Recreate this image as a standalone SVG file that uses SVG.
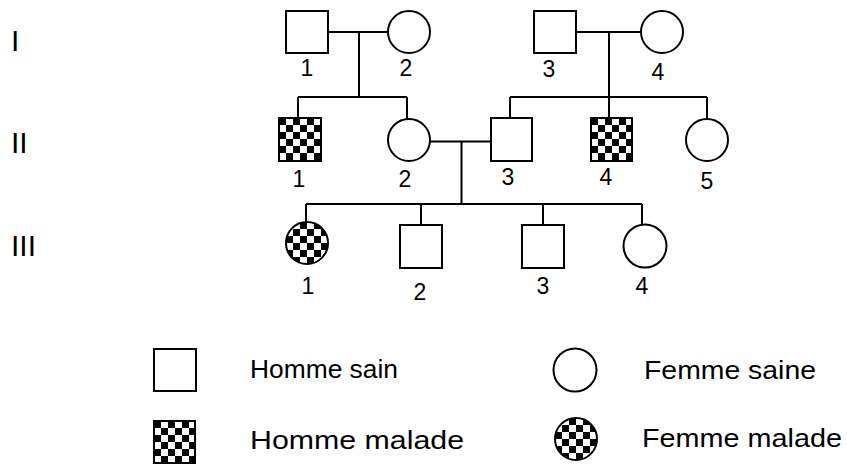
<svg xmlns="http://www.w3.org/2000/svg" width="847" height="467" viewBox="0 0 847 467">
<defs>
<g id="tile">
<rect x="0" y="0" width="14" height="14" fill="#fff"/>
<rect x="0" y="0" width="7" height="7" fill="#000"/>
<rect x="7" y="7" width="7" height="7" fill="#000"/>
</g>
<pattern id="ck1" patternUnits="userSpaceOnUse" x="279" y="118" width="14" height="14"><use href="#tile"/></pattern>
<pattern id="ck2" patternUnits="userSpaceOnUse" x="591" y="118" width="14" height="14"><use href="#tile"/></pattern>
<pattern id="ck3" patternUnits="userSpaceOnUse" x="286" y="222" width="14" height="14"><use href="#tile"/></pattern>
<pattern id="ck4" patternUnits="userSpaceOnUse" x="154" y="421" width="14" height="14"><use href="#tile"/></pattern>
<pattern id="ck5" patternUnits="userSpaceOnUse" x="555" y="418" width="14" height="14"><use href="#tile"/></pattern>
</defs>
<style>
.s{fill:#fff;stroke:#000;stroke-width:2}
.a{stroke:#000;stroke-width:2}
.ln{fill:none;stroke:#000;stroke-width:2}
.n{font-family:"Liberation Sans",Arial,sans-serif;font-size:23px;fill:#000;text-anchor:middle}
.g{font-family:"Liberation Sans",Arial,sans-serif;font-size:30px;fill:#000}
.t{font-family:"Liberation Sans",Arial,sans-serif;font-size:26px;fill:#000}
</style>
<rect width="847" height="467" fill="#fff"/>
<g id="generations">
<text class="g" x="11" y="51">I</text>
<text class="g" x="11" y="153">II</text>
<text class="g" x="11" y="256">III</text>
</g>
<g id="connectors">
<path class="ln" d="M328 32H388M359 32V97M298 97H407M298 97V118M407 97V119"/>
<path class="ln" d="M576 32H641M609 32V97M510 97H707M510 97V118M609 97V118M707 97V118"/>
<path class="ln" d="M430 141.5H491M461.5 141.5V204M306 204H642M306 204V222M421 204V225M543 204V225M642 204V224"/>
</g>
<g id="I-1"><rect class="s" x="286" y="11" width="42" height="42"/><text class="n" x="307" y="76">1</text></g>
<g id="I-2"><circle class="s" cx="409" cy="32" r="21"/><text class="n" x="406" y="76">2</text></g>
<g id="I-3"><rect class="s" x="534" y="11" width="42" height="42"/><text class="n" x="549" y="77">3</text></g>
<g id="I-4"><circle class="s" cx="662" cy="32" r="21"/><text class="n" x="658" y="80">4</text></g>
<g id="II-1"><rect class="a" fill="url(#ck1)" x="279" y="118" width="42" height="43"/><text class="n" x="299" y="187">1</text></g>
<g id="II-2"><circle class="s" cx="409" cy="140" r="21"/><text class="n" x="405" y="187">2</text></g>
<g id="II-3"><rect class="s" x="491" y="118" width="41" height="43"/><text class="n" x="508" y="185">3</text></g>
<g id="II-4"><rect class="a" fill="url(#ck2)" x="591" y="118" width="41" height="43"/><text class="n" x="606" y="185">4</text></g>
<g id="II-5"><circle class="s" cx="707" cy="140" r="21"/><text class="n" x="707" y="189">5</text></g>
<g id="III-1"><circle class="a" fill="url(#ck3)" cx="307" cy="243" r="21"/><text class="n" x="308" y="294">1</text></g>
<g id="III-2"><rect class="s" x="400" y="225" width="42" height="43"/><text class="n" x="420" y="300">2</text></g>
<g id="III-3"><rect class="s" x="522" y="225" width="42" height="43"/><text class="n" x="543" y="294">3</text></g>
<g id="III-4"><circle class="s" cx="645" cy="246" r="21.5"/><text class="n" x="642" y="294">4</text></g>
<g id="legend">
<rect class="s" x="154" y="349" width="42" height="42"/>
<text class="t" x="250" y="378" textLength="148" lengthAdjust="spacingAndGlyphs">Homme sain</text>
<rect class="a" fill="url(#ck4)" x="154" y="421" width="41" height="42"/>
<text class="t" x="250" y="449" textLength="214" lengthAdjust="spacingAndGlyphs">Homme malade</text>
<circle class="s" cx="575" cy="370" r="21.5"/>
<text class="t" x="644" y="379" textLength="172" lengthAdjust="spacingAndGlyphs">Femme saine</text>
<circle class="a" fill="url(#ck5)" cx="576" cy="439" r="21"/>
<text class="t" x="642" y="447" textLength="200" lengthAdjust="spacingAndGlyphs">Femme malade</text>
</g>
</svg>
